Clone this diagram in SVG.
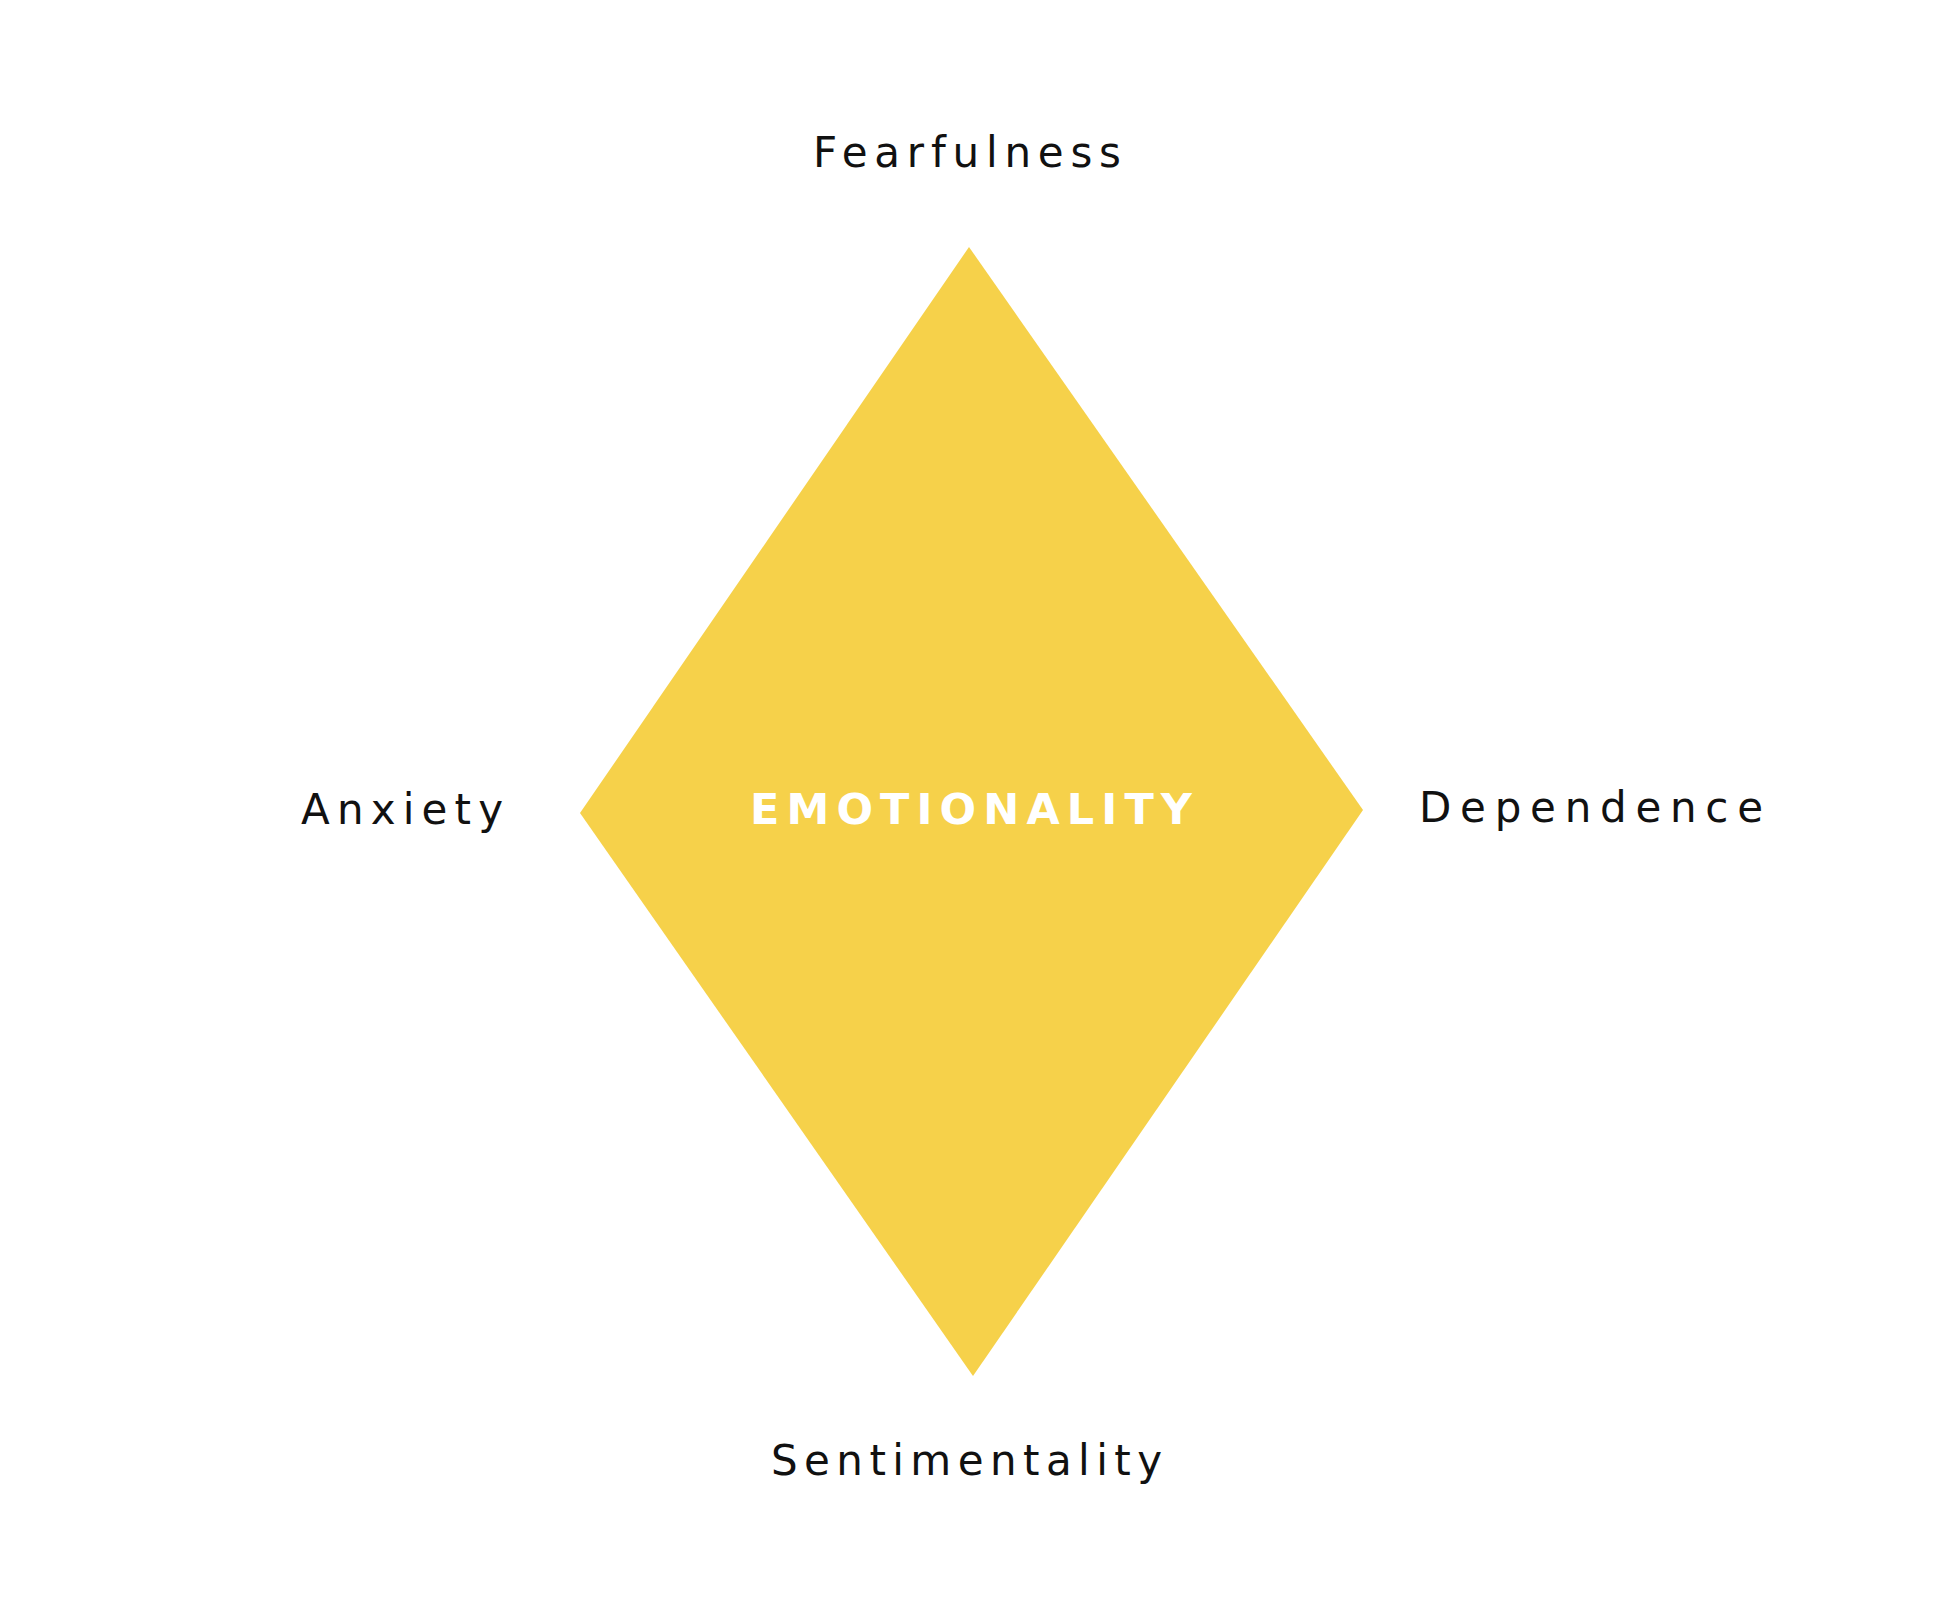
<svg xmlns="http://www.w3.org/2000/svg" width="1951" height="1620" viewBox="0 0 1951 1620">
<style>
.lbl{font-family:"DejaVu Sans","Liberation Sans",Arial,sans-serif;font-size:42px;fill:#111111;}
.ctr{font-family:"DejaVu Sans","Liberation Sans",Arial,sans-serif;font-size:43px;font-weight:bold;fill:#ffffff;}
</style>
<rect width="1951" height="1620" fill="#ffffff"/>
<g id="diamond">
<polygon points="969,247 1363,810 973,1376 580,813" fill="#F6D14A"/>
<text class="ctr" x="750" y="824" textLength="442" lengthAdjust="spacing">EMOTIONALITY</text>
</g>
<g id="fearfulness"><text class="lbl" x="813" y="167" textLength="308" lengthAdjust="spacing">Fearfulness</text></g>
<g id="anxiety"><text class="lbl" x="301" y="824" textLength="202" lengthAdjust="spacing">Anxiety</text></g>
<g id="dependence"><text class="lbl" x="1419" y="822" textLength="344" lengthAdjust="spacing">Dependence</text></g>
<g id="sentimentality"><text class="lbl" x="771" y="1475" textLength="391" lengthAdjust="spacing">Sentimentality</text></g>
<g id="connectors"></g>
</svg>
